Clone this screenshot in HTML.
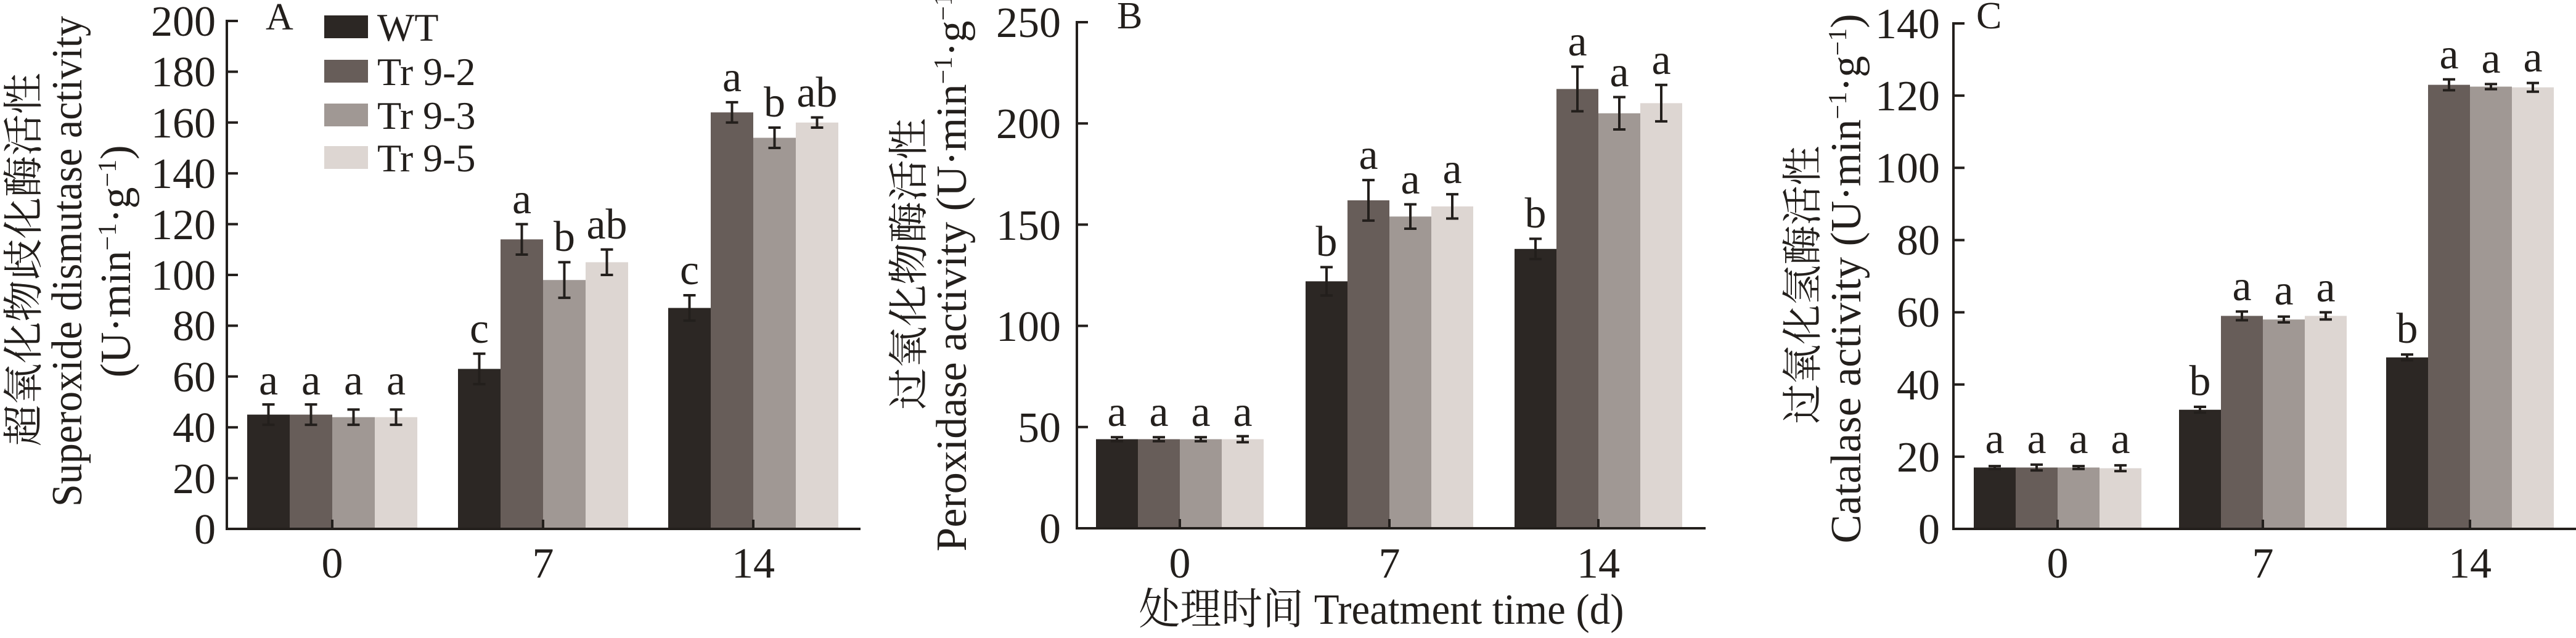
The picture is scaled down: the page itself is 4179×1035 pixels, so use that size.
<!DOCTYPE html>
<html><head><meta charset="utf-8"><style>
html,body{margin:0;padding:0;background:#fff;}
svg text{font-family:"Liberation Serif","Noto Serif CJK SC","Noto Sans CJK SC",serif;fill:#231f1c;}
</style></head><body>
<svg id="s" width="4179" height="1030" viewBox="0 0 4179 1030" xmlns="http://www.w3.org/2000/svg">
<g id="shapes"></g>
<g font-size="70">
<g text-anchor="end">
<text x="350" y="882">0</text><text x="350" y="800">20</text><text x="350" y="717">40</text><text x="350" y="635">60</text><text x="350" y="552">80</text><text x="350" y="470">100</text><text x="350" y="388">120</text><text x="350" y="305">140</text><text x="350" y="223">160</text><text x="350" y="140">180</text><text x="350" y="58">200</text>
<text x="1721" y="881">0</text><text x="1721" y="717">50</text><text x="1721" y="553">100</text><text x="1721" y="389">150</text><text x="1721" y="224">200</text><text x="1721" y="60">250</text>
<text x="3147" y="882">0</text><text x="3147" y="765">20</text><text x="3147" y="648">40</text><text x="3147" y="530">60</text><text x="3147" y="413">80</text><text x="3147" y="296">100</text><text x="3147" y="179">120</text><text x="3147" y="62">140</text>
</g>
<g text-anchor="middle">
<text x="539" y="937">0</text><text x="881" y="937">7</text><text x="1222" y="937">14</text>
<text x="1914" y="937">0</text><text x="2254" y="937">7</text><text x="2593" y="937">14</text>
<text x="3338" y="937">0</text><text x="3671" y="937">7</text><text x="4007" y="937">14</text>
<text x="2241" y="1012" textLength="787" lengthAdjust="spacingAndGlyphs">处理时间 Treatment time (d)</text>
<text x="435.5" y="640">a</text><text x="504.5" y="640">a</text><text x="573.5" y="640">a</text><text x="642.5" y="640">a</text>
<text x="777.5" y="556">c</text><text x="846.5" y="346">a</text><text x="915.5" y="407">b</text><text x="984.5" y="387">ab</text>
<text x="1118.5" y="461">c</text><text x="1187.5" y="148">a</text><text x="1256.5" y="189">b</text><text x="1325.5" y="173">ab</text>
<text x="1812" y="691">a</text><text x="1880" y="691">a</text><text x="1948" y="691">a</text><text x="2016" y="691">a</text>
<text x="2152" y="415">b</text><text x="2220" y="274">a</text><text x="2288" y="314">a</text><text x="2356" y="297">a</text>
<text x="2491" y="369">b</text><text x="2559" y="90">a</text><text x="2627" y="140">a</text><text x="2695" y="120">a</text>
<text x="3236" y="735">a</text><text x="3304" y="735">a</text><text x="3372" y="735">a</text><text x="3440" y="735">a</text>
<text x="3569" y="641">b</text><text x="3637" y="487">a</text><text x="3705" y="494">a</text><text x="3773" y="489">a</text>
<text x="3905" y="556">b</text><text x="3973" y="111">a</text><text x="4041" y="118">a</text><text x="4109" y="116">a</text>
</g>
<text x="431" y="48" font-size="62">A</text>
<text x="1812" y="46" font-size="62">B</text>
<text x="3206" y="46" font-size="62">C</text>
<g font-size="64">
<text x="612" y="66">WT</text><text x="612" y="138">Tr 9-2</text><text x="612" y="209">Tr 9-3</text><text x="612" y="278">Tr 9-5</text>
</g>
<g text-anchor="middle">
<text transform="translate(61,421) rotate(-90)" font-size="66" textLength="606" lengthAdjust="spacingAndGlyphs">超氧化物歧化酶活性</text>
<text transform="translate(132,424) rotate(-90)" textLength="796" lengthAdjust="spacingAndGlyphs">Superoxide dismutase activity</text>
<text transform="translate(211,424) rotate(-90)">(U·min<tspan font-size="42" baseline-shift="super">−1</tspan>·g<tspan font-size="42" baseline-shift="super">−1</tspan>)</text>
<text transform="translate(1497,428) rotate(-90)" font-size="66" textLength="473" lengthAdjust="spacingAndGlyphs">过氧化物酶活性</text>
<text transform="translate(1567,430) rotate(-90)">Peroxidase activity (U·min<tspan font-size="42" baseline-shift="super">−1</tspan>·g<tspan font-size="42" baseline-shift="super">−1</tspan>)</text>
<text transform="translate(2947,462) rotate(-90)" font-size="66" textLength="451" lengthAdjust="spacingAndGlyphs">过氧化氢酶活性</text>
<text transform="translate(3018,452) rotate(-90)">Catalase activity (U·min<tspan font-size="42" baseline-shift="super">−1</tspan>·g<tspan font-size="42" baseline-shift="super">−1</tspan>)</text>
</g>
</g>
</svg>
<script>
(function(){
var NS="http://www.w3.org/2000/svg",g=document.getElementById("shapes");
function el(t,a){var e=document.createElementNS(NS,t);for(var k in a)e.setAttribute(k,a[k]);g.appendChild(e);}
var cols=["#2c2724","#675d59","#a09894","#ddd6d2"],ink="#231f1c";
var P=[
{ax:368,y0:858,k:4.12,xe:1396,gs:[401,743,1084],bw:69,ticks:[0,20,40,60,80,100,120,140,160,180,200],
 v:[[45,63,87],[45,114,164],[44,98,154],[44,105,160]],e:[[4,6,5],[4,6,4],[3,7,4],[3,5,2]]},
{ax:1747,y0:857,k:3.284,xe:2767,gs:[1778,2118,2457],bw:68,ticks:[0,50,100,150,200,250],
 v:[[44,122,138],[44,162,217],[44,154,205],[44,159,210]],e:[[1,7,5],[1,10,11],[1,6,8],[1.5,6,9]]},
{ax:3169,y0:858,k:5.857,xe:4179,gs:[3202,3535,3871],bw:68,ticks:[0,20,40,60,80,100,120,140],
 v:[[17,33,47.5],[17,59,123],[17,58,122.5],[16.8,59,122.3]],e:[[0.4,0.8,0.8],[0.8,1.2,1.5],[0.4,0.8,0.7],[0.8,1,1.2]]}
];
P.forEach(function(p){
 for(var i=0;i<4;i++)for(var j=0;j<3;j++){
  var v=p.v[i][j],x=p.gs[j]+i*p.bw,y=p.y0-v*p.k;
  el("rect",{x:x,y:y,width:p.bw,height:v*p.k,fill:cols[i]});
 }
 for(var i=0;i<4;i++)for(var j=0;j<3;j++){
  var v=p.v[i][j],er=p.e[i][j],cx=p.gs[j]+i*p.bw+p.bw/2;
  var yt=p.y0-(v+er)*p.k,yb=p.y0-(v-er)*p.k;
  el("line",{x1:cx,x2:cx,y1:yt,y2:yb,stroke:ink,"stroke-width":4});
  el("line",{x1:cx-10,x2:cx+10,y1:yt,y2:yt,stroke:ink,"stroke-width":4});
  el("line",{x1:cx-10,x2:cx+10,y1:yb,y2:yb,stroke:ink,"stroke-width":4});
 }
 el("line",{x1:p.ax,x2:p.ax,y1:p.y0-p.ticks[p.ticks.length-1]*p.k-2,y2:p.y0+2,stroke:ink,"stroke-width":4});
 el("line",{x1:p.ax-2,x2:p.xe,y1:p.y0,y2:p.y0,stroke:ink,"stroke-width":4});
 p.ticks.forEach(function(t){var y=p.y0-t*p.k;el("line",{x1:p.ax,x2:p.ax+18,y1:y,y2:y,stroke:ink,"stroke-width":4});});
 p.gs.forEach(function(x0){var cx=x0+2*p.bw;el("line",{x1:cx,x2:cx,y1:p.y0,y2:p.y0-15,stroke:ink,"stroke-width":4});});
});
[25,97,168,237].forEach(function(y,i){el("rect",{x:526,y:y,width:71,height:37,fill:cols[i]});});
})();
</script>
</body></html>
